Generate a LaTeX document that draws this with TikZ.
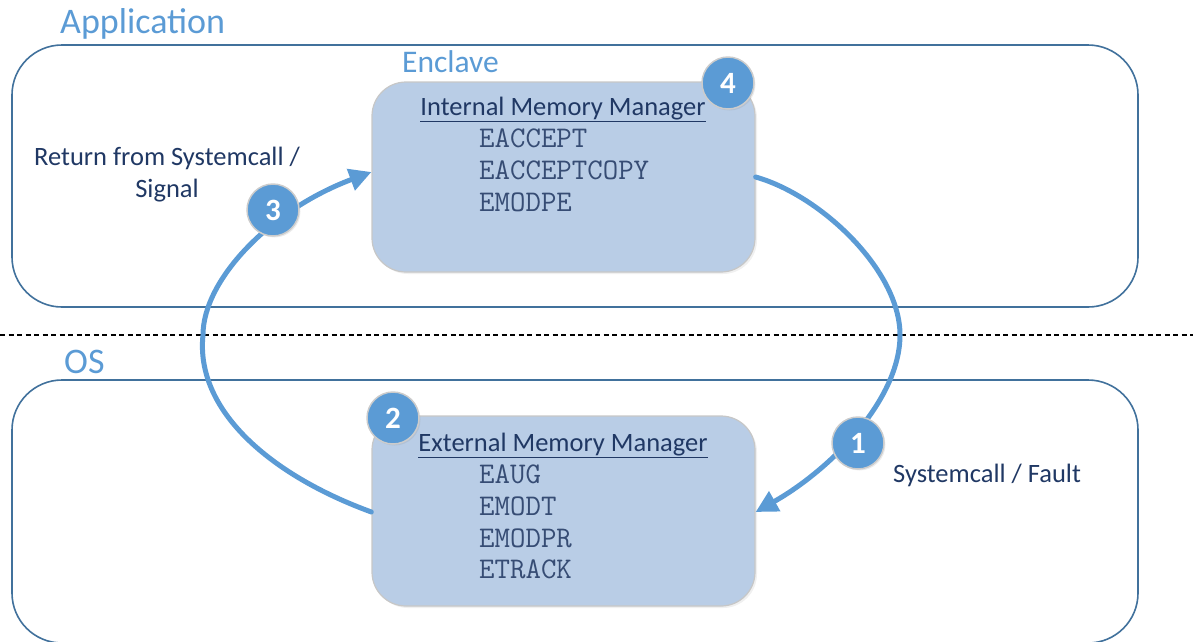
\documentclass[tikz,border=0pt]{standalone}
\usepackage{fontspec}
\setmainfont{Carlito}
\usetikzlibrary{arrows.meta,shadows}
\definecolor{accent}{HTML}{5B9BD5}
\definecolor{navy}{HTML}{203864}
\definecolor{outline}{HTML}{41719C}
\definecolor{boxfill}{HTML}{B9CDE6}
\tikzset{
  region/.style={draw=outline, line width=1.6pt, rounded corners=50pt},
  mgr/.style={draw=black!22, line width=1.2pt, fill=boxfill, rounded corners=34pt,
    minimum width=383pt, minimum height=190pt, inner sep=0pt,
    drop shadow={opacity=0.12, shadow xshift=2pt, shadow yshift=-2pt}},
  badge/.style={circle, fill=accent, draw=black!20, line width=1.5pt, minimum size=52pt,
    inner sep=0pt, text=white, font=\fontsize{31}{34}\selectfont\bfseries,
    drop shadow={opacity=0.15, shadow xshift=1.5pt, shadow yshift=-1.5pt}},
  flow/.style={draw=accent, line width=5pt, line cap=round},
  tip/.style={-{Triangle[length=22pt,width=22pt]}},
  ttl/.style={text=accent, font=\fontsize{31.5}{34}\selectfont, anchor=base west, inner sep=0pt},
  lbl/.style={text=navy, font=\fontsize{26.5}{30}\selectfont, inner sep=0pt},
  cmd/.style={text=navy!90, font=\fontsize{30}{32}\selectfont\ttfamily, anchor=base west, inner sep=0pt},
}
\begin{document}
\begin{tikzpicture}[x=1pt,y=-1pt]
\useasboundingbox (0,0) rectangle (1193,641);
% regions
\draw[region] (12,45) rectangle (1138,307);
\draw[region] (12,380) rectangle (1138,643);
\draw[line width=2.5pt, dash pattern=on 5pt off 3.5pt] (0,335) -- (1193,335);
\node[ttl, font=\fontsize{36}{40}\selectfont] (app) at (60,33) {Application};
\node[ttl, font=\fontsize{36}{40}\selectfont] (os) at (64,373) {OS};
\node[ttl] (encl) at (402,72.5) {Enclave};
% managers
\node[mgr] (imm) at (563.5,177) {};
\node[mgr] (emm) at (563.5,511) {};
\node[lbl, anchor=base] (immt) at (563,115) {\underline{Internal Memory Manager}};
\node[cmd] (c1) at (479,147) {EACCEPT};
\node[cmd] (c2) at (479,179) {EACCEPTCOPY};
\node[cmd] (c3) at (479,211) {EMODPE};
\node[lbl, anchor=base] (emmt) at (563,451) {\underline{External Memory Manager}};
\node[cmd] (d1) at (479,483) {EAUG};
\node[cmd] (d2) at (479,515) {EMODT};
\node[cmd] (d3) at (479,547) {EMODPR};
\node[cmd] (d4) at (479,578.5) {ETRACK};
% labels
\node[lbl, align=center, anchor=base] (ret) at (167,197) {Return from Systemcall /\\[2pt]Signal};
\node[lbl, anchor=base west] (sys) at (893,482) {Systemcall / Fault};
% flows
\coordinate (a1) at (imm.east |- 0,177);
\coordinate (r1) at (900,335);
\coordinate (b1) at (emm.east |- 0,512);
\draw[flow, tip] (a1) .. controls (820,195) and (900,270) .. (r1)
  .. controls (900,400) and (830,470) .. (b1);
\coordinate (a3) at (emm.west |- 0,512);
\coordinate (l3) at (203,335);
\coordinate (b3) at (imm.west |- 0,172);
\draw[flow, tip] (a3) .. controls (270,475) and (195,410) .. (l3)
  .. controls (203,280) and (270,210) .. (b3);
% badges
\node[badge] (n4) at (728,83) {4};
\node[badge] (n2) at (393,418) {2};
\node[badge] (n1) at (858,443) {1};
\node[badge] (n3) at (273,210) {3};
\end{tikzpicture}
\end{document}
